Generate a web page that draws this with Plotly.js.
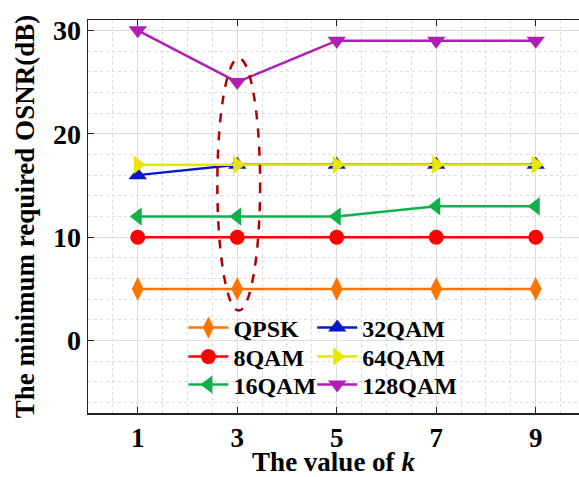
<!DOCTYPE html>
<html><head><meta charset="utf-8">
<script src="https://cdn.plot.ly/plotly-3.0.1.min.js"></script>
<style>html,body{margin:0;padding:0;background:#fff}#chart{width:579px;height:477px}</style>
</head><body><div id="chart"></div>
<script>
const kValues = [1, 3, 5, 7, 9];
const seriesNames = ["QPSK", "8QAM", "16QAM", "32QAM", "64QAM", "128QAM"];
const qpsk = [5, 5, 5, 5, 5];
const qam8 = [10, 10, 10, 10, 10];
const qam16 = [12, 12, 12, 13, 13];
const qam32 = [16, 17, 17, 17, 17];
const qam64 = [17, 17, 17, 17, 17];
const qam128 = [30, 25, 29, 29, 29];
const xTickLabels = ["1", "3", "5", "7", "9"];
const yTickValues = [0, 10, 20, 30];

const F = "Liberation Serif, Times New Roman, serif";
function tr(name, y, color, symbol, size, legend) {
  return {x: kValues, y: y, name: name, type: "scatter", mode: "lines+markers",
    line: {color: color, width: 2.5},
    marker: {color: color, symbol: symbol, size: size},
    legend: legend};
}
const data = [
  tr(seriesNames[0], qpsk, "#FF7300", "diamond-tall", 17, "legend"),
  tr(seriesNames[1], qam8, "#FF0000", "circle", 15, "legend2"),
  tr(seriesNames[2], qam16, "#10B04C", "triangle-left", 16, "legend3"),
  tr(seriesNames[3], qam32, "#0A18C8", "triangle-up", 16, "legend4"),
  tr(seriesNames[4], qam64, "#E6E600", "triangle-right", 16, "legend5"),
  tr(seriesNames[5], qam128, "#B01EB4", "triangle-down", 16, "legend6")
];
const legendStyle = {font: {family: F, size: 24, color: "#000", weight: "bold"},
  bgcolor: "rgba(0,0,0,0)", itemwidth: 40, xanchor: "left", yanchor: "middle"};
const col1 = 0.1943, col2 = 0.4567;
const rows = [0.2163, 0.1425, 0.0712];
function lg(x, y) { return Object.assign({}, legendStyle, {x: x, y: y}); }
const layout = {
  width: 579, height: 477,
  margin: {l: 88, r: 0, t: 20, b: 64},
  paper_bgcolor: "#fff", plot_bgcolor: "#fff",
  font: {family: F, color: "#000"},
  showlegend: true,
  xaxis: {range: [0, 9.87], tickvals: kValues, ticktext: xTickLabels,
    showline: true, linecolor: "#222", linewidth: 1.5, mirror: "ticks",
    ticks: "inside", ticklen: 6, tickcolor: "#222",
    showgrid: true, gridcolor: "#dddddd", gridwidth: 1, zeroline: false,
    minor: {dtick: 0.5, tick0: 0, showgrid: true, gridcolor: "#dcdcdc", griddash: "dot", gridwidth: 1},
    tickfont: {family: F, size: 27, weight: "bold"},
    title: {text: "The value of <i>k</i>", font: {family: F, size: 27, weight: "bold"}, standoff: 9}},
  yaxis: {range: [-7, 31], tickvals: yTickValues,
    showline: true, linecolor: "#222", linewidth: 1.5, mirror: false,
    ticks: "inside", ticklen: 6, tickcolor: "#222",
    showgrid: true, gridcolor: "#dddddd", gridwidth: 1, zeroline: false,
    minor: {dtick: 2, tick0: 0, showgrid: true, gridcolor: "#dcdcdc", griddash: "dot", gridwidth: 1},
    tickfont: {family: F, size: 28, weight: "bold"},
    title: {text: "The minimum required OSNR(dB)", font: {family: F, size: 27, weight: "bold"}, standoff: 10}},
  legend: lg(col1, rows[0]),
  legend2: lg(col1, rows[1]),
  legend3: lg(col1, rows[2]),
  legend4: lg(col2, rows[0]),
  legend5: lg(col2, rows[1]),
  legend6: lg(col2, rows[2]),
  shapes: [{type: "circle", xref: "x", yref: "y", x0: 2.6, x1: 3.46, y0: 2.9, y1: 27.3,
    line: {color: "#B00000", width: 2.5, dash: "dash"}}]
};
Plotly.newPlot("chart", data, layout, {displayModeBar: false, staticPlot: true});
</script></body></html>
